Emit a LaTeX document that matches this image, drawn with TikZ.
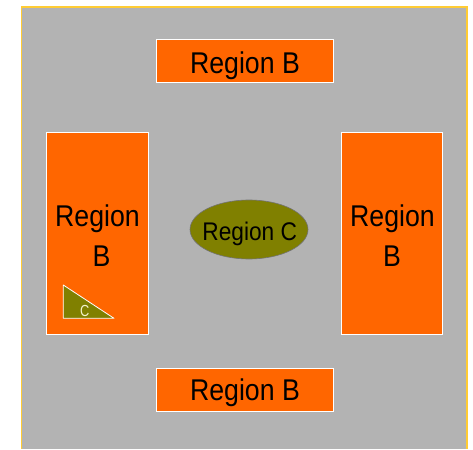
\documentclass[tikz,border=0pt]{standalone}
\usepackage{fontspec}
\setmainfont{Liberation Sans}
\newfontfamily\condsans[FakeStretch=0.89]{Liberation Sans}
\newfontfamily\tinysans[FakeStretch=0.8]{Liberation Sans}
\usetikzlibrary{shapes.geometric}
\definecolor{bggray}{HTML}{B3B3B3}
\definecolor{regorange}{HTML}{FF6600}
\definecolor{regolive}{HTML}{808000}
\definecolor{framegold}{HTML}{FFCC33}
\definecolor{marktext}{HTML}{F2F2CC}
\tikzset{
  regionbox/.style={draw=white, line width=1pt, fill=regorange, inner sep=0pt},
  bigtext/.style={anchor=base, inner sep=0pt, align=center, text=black,
    font=\condsans\fontsize{30}{40}\selectfont},
  regionc/.style={ellipse, draw=black!55, line width=0.6pt, fill=regolive, inner sep=0pt},
}
\begin{document}
\begin{tikzpicture}[x=1pt,y=-1pt]
  \useasboundingbox (0,0) rectangle (473,449);
  % canvas with gold frame on three sides
  \fill[bggray] (21.5,7) rectangle (467,449);
  \draw[framegold, line width=1.5pt] (21.5,449) -- (21.5,7) -- (467,7) -- (467,449);
  % outer regions
  \node[regionbox, minimum width=177pt, minimum height=43pt] (top) at (244.5,61.5) {};
  \node[regionbox, minimum width=177pt, minimum height=43pt] (bottom) at (244.5,389.5) {};
  \node[regionbox, minimum width=102pt, minimum height=201pt] (left) at (97,233.5) {};
  \node[regionbox, minimum width=101pt, minimum height=201pt] (right) at (391.5,233.5) {};
  \node[bigtext] (toptxt) at (245,73.3) {Region B};
  \node[bigtext] (bottomtxt) at (245,400.3) {Region B};
  \node[bigtext] (lefttxt) at (97.5,226.7) {Region};
  \node[bigtext] (leftb) at (101.5,266.7) {B};
  \node[bigtext] (righttxt) at (392.5,226.7) {Region};
  \node[bigtext] (rightb) at (392,266.7) {B};
  % central region
  \node[regionc, minimum width=118pt, minimum height=59pt] (center) at (249,229.5) {};
  \node[anchor=base, inner sep=0pt, font=\condsans\fontsize{25.5}{30}\selectfont]
    (centertxt) at (249.7,240) {Region C};
  % small marker inside the left region
  \draw[white, line width=0.8pt, fill=regolive, line join=round]
    (63.3,285) -- (63.3,318.3) -- (114,318.3) -- cycle;
  \node[anchor=base, text=marktext, font=\tinysans\fontsize{16}{20}\selectfont, inner sep=0pt]
    (mark) at (84.7,316) {C};
\end{tikzpicture}
\end{document}
